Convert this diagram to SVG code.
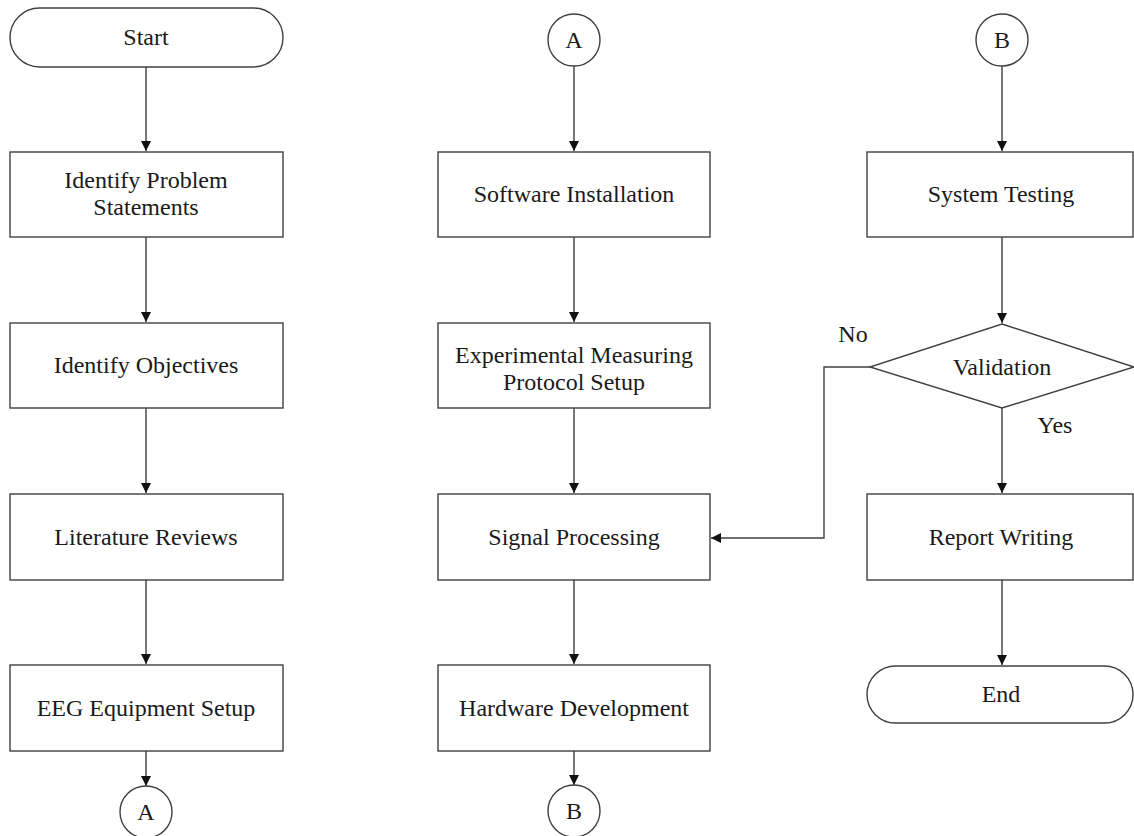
<svg xmlns="http://www.w3.org/2000/svg" width="1134" height="836" viewBox="0 0 1134 836">
<style>
.s{fill:#fff;stroke:#404040;stroke-width:1.4}
.t{font-family:"Liberation Serif","Times New Roman",serif;font-size:24px;fill:#1a1a1a;text-anchor:middle}
.c{fill:none;stroke:#404040;stroke-width:1.4}
</style>
<defs>
<marker id="ah" markerWidth="10" markerHeight="10" refX="10" refY="5" orient="auto" markerUnits="userSpaceOnUse">
<path d="M0,0 L10,5 L0,10 Z" fill="#111"/>
</marker>
</defs>
<rect width="1134" height="836" fill="#fff"/>
<g id="connectors">
<path class="c" d="M146,67 V151" marker-end="url(#ah)"/>
<path class="c" d="M146,237 V322" marker-end="url(#ah)"/>
<path class="c" d="M146,408 V493" marker-end="url(#ah)"/>
<path class="c" d="M146,580 V664" marker-end="url(#ah)"/>
<path class="c" d="M146,751 V786" marker-end="url(#ah)"/>
<path class="c" d="M574,66 V151" marker-end="url(#ah)"/>
<path class="c" d="M574,237 V322" marker-end="url(#ah)"/>
<path class="c" d="M574,408 V493" marker-end="url(#ah)"/>
<path class="c" d="M574,580 V664" marker-end="url(#ah)"/>
<path class="c" d="M574,751 V785" marker-end="url(#ah)"/>
<path class="c" d="M1002,66 V151" marker-end="url(#ah)"/>
<path class="c" d="M1002,237 V323" marker-end="url(#ah)"/>
<path class="c" d="M1002,408 V493" marker-end="url(#ah)"/>
<path class="c" d="M1002,580 V665" marker-end="url(#ah)"/>
<path class="c" d="M870,367 H824 V538 H711" marker-end="url(#ah)"/>
<text class="t" x="853" y="342">No</text>
<text class="t" x="1055" y="433">Yes</text>
</g>
<g id="start">
<rect class="s" x="10" y="8" width="273" height="59" rx="29.5"/>
<text class="t" x="146" y="45">Start</text>
</g>
<g id="identify-problem">
<rect class="s" x="10" y="152" width="273" height="85"/>
<text class="t" x="146" y="188">Identify Problem</text>
<text class="t" x="146" y="215">Statements</text>
</g>
<g id="identify-objectives">
<rect class="s" x="10" y="323" width="273" height="85"/>
<text class="t" x="146" y="373">Identify Objectives</text>
</g>
<g id="literature-reviews">
<rect class="s" x="10" y="494" width="273" height="86"/>
<text class="t" x="146" y="545">Literature Reviews</text>
</g>
<g id="eeg-setup">
<rect class="s" x="10" y="665" width="273" height="86"/>
<text class="t" x="146" y="716">EEG Equipment Setup</text>
</g>
<g id="connector-a-out">
<circle class="s" cx="146" cy="812" r="26"/>
<text class="t" x="146" y="820">A</text>
</g>
<g id="connector-a-in">
<circle class="s" cx="574" cy="40" r="26"/>
<text class="t" x="574" y="48">A</text>
</g>
<g id="software-installation">
<rect class="s" x="438" y="152" width="272" height="85"/>
<text class="t" x="574" y="202">Software Installation</text>
</g>
<g id="experimental-protocol">
<rect class="s" x="438" y="323" width="272" height="85"/>
<text class="t" x="574" y="363">Experimental Measuring</text>
<text class="t" x="574" y="390">Protocol Setup</text>
</g>
<g id="signal-processing">
<rect class="s" x="438" y="494" width="272" height="86"/>
<text class="t" x="574" y="545">Signal Processing</text>
</g>
<g id="hardware-development">
<rect class="s" x="438" y="665" width="272" height="86"/>
<text class="t" x="574" y="716">Hardware Development</text>
</g>
<g id="connector-b-out">
<circle class="s" cx="574" cy="811" r="26"/>
<text class="t" x="574" y="819">B</text>
</g>
<g id="connector-b-in">
<circle class="s" cx="1002" cy="40" r="26"/>
<text class="t" x="1002" y="48">B</text>
</g>
<g id="system-testing">
<rect class="s" x="867" y="152" width="266" height="85"/>
<text class="t" x="1001" y="202">System Testing</text>
</g>
<g id="validation">
<polygon class="s" points="1002,324 1134,367 1002,408 870,367"/>
<text class="t" x="1002" y="375">Validation</text>
</g>
<g id="report-writing">
<rect class="s" x="867" y="494" width="266" height="86"/>
<text class="t" x="1001" y="545">Report Writing</text>
</g>
<g id="end">
<rect class="s" x="867" y="666" width="266" height="57" rx="28.5"/>
<text class="t" x="1001" y="702">End</text>
</g>
</svg>
